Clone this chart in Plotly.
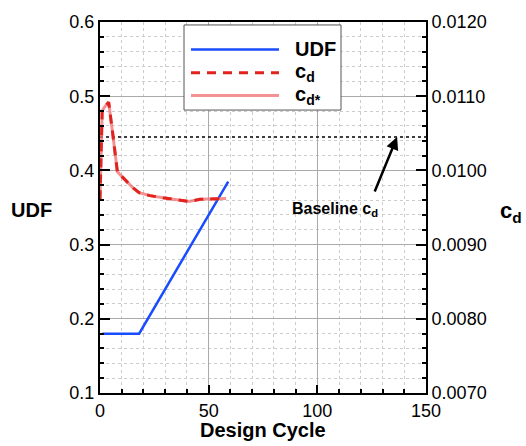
import plotly.graph_objects as go

# Design-cycle history
udf_cycle = [1, 18, 59]
udf_value = [0.18, 0.18, 0.385]

cd_cycle = [0, 1, 2, 4, 6, 8, 10, 12, 15, 18, 23, 29, 35, 41, 46, 52, 58]
cd_value = [0.00961, 0.01080, 0.01085, 0.01092, 0.01046, 0.00998, 0.00992, 0.00986,
            0.00977, 0.00970, 0.00966, 0.00963, 0.00960, 0.00958, 0.00961, 0.00962, 0.00962]
cd_star_value = list(cd_value)

baseline_cd = 0.01045
x_span = [0, 150]

FONT = "Liberation Sans, Arial, Helvetica, sans-serif"
BLUE = "#1a4cff"
RED = "#e0231c"
LIGHT_RED = "rgba(240,110,110,0.75)"

fig = go.Figure()

fig.add_trace(go.Scatter(x=udf_cycle, y=udf_value, mode="lines",
                         line=dict(color=BLUE, width=2.5), showlegend=False))
fig.add_trace(go.Scatter(x=x_span, y=[baseline_cd, baseline_cd], yaxis="y2", mode="lines",
                         line=dict(color="black", width=1.5, dash="dot"), showlegend=False))
fig.add_trace(go.Scatter(x=cd_cycle, y=cd_star_value, yaxis="y2", mode="lines",
                         line=dict(color=LIGHT_RED, width=3), showlegend=False))
fig.add_trace(go.Scatter(x=cd_cycle, y=cd_value, yaxis="y2", mode="lines",
                         line=dict(color=RED, width=3, dash="9px,7px"), showlegend=False))

def px_x(p):
    return (p - 100) / 326.0

def px_y(p):
    return (393 - p) / 375.0

shapes = [
    dict(type="rect", xref="paper", yref="paper", x0=px_x(184), x1=px_x(341),
         y0=px_y(107), y1=px_y(21), line=dict(color="#555555", width=1),
         fillcolor="white", layer="above"),
    dict(type="line", xref="paper", yref="paper", x0=px_x(191), x1=px_x(279),
         y0=px_y(45.7), y1=px_y(45.7), line=dict(color=BLUE, width=2.5), layer="above"),
    dict(type="line", xref="paper", yref="paper", x0=px_x(191), x1=px_x(279),
         y0=px_y(69.3), y1=px_y(69.3), line=dict(color=RED, width=3, dash="9px,7px"), layer="above"),
    dict(type="line", xref="paper", yref="paper", x0=px_x(191), x1=px_x(279),
         y0=px_y(92.3), y1=px_y(92.3), line=dict(color=LIGHT_RED, width=3), layer="above"),
]

bold = dict(family=FONT, size=20, color="black")
annotations = [
    dict(xref="paper", yref="paper", x=px_x(293), y=px_y(45.7), text="<b>UDF</b>",
         showarrow=False, xanchor="left", yanchor="middle", font=bold),
    dict(xref="paper", yref="paper", x=px_x(293), y=px_y(69.3), text="<b>c<sub>d</sub></b>",
         showarrow=False, xanchor="left", yanchor="middle", font=bold),
    dict(xref="paper", yref="paper", x=px_x(293), y=px_y(92.3), text="<b>c<sub>d*</sub></b>",
         showarrow=False, xanchor="left", yanchor="middle", font=bold),
    dict(xref="paper", yref="paper", x=px_x(31), y=px_y(208), text="<b>UDF</b>",
         showarrow=False, xanchor="center", yanchor="middle", font=bold),
    dict(xref="paper", yref="paper", x=px_x(511), y=px_y(210), text="<b>c<sub>d</sub></b>",
         showarrow=False, xanchor="center", yanchor="middle", font=dict(family=FONT, size=22, color="black")),
    dict(xref="paper", yref="paper", x=0.5, y=px_y(430), text="<b>Design Cycle</b>",
         showarrow=False, xanchor="center", yanchor="middle", font=bold),
    dict(xref="x", yref="y2", x=136.7, y=baseline_cd, text="", showarrow=True,
         ax=-23, ay=56, arrowhead=2, arrowsize=1, arrowwidth=2.5, arrowcolor="black"),
    dict(xref="x", yref="y2", x=108, y=0.009467, text="<b>Baseline c<sub>d</sub></b>",
         showarrow=False, xanchor="center", yanchor="middle",
         font=dict(family=FONT, size=16, color="black")),
]

tickfont = dict(family=FONT, size=18, color="black")

fig.update_layout(
    width=526, height=446,
    margin=dict(l=100, r=100, t=18, b=53),
    paper_bgcolor="white", plot_bgcolor="white",
    font=dict(family=FONT, color="black"),
    shapes=shapes, annotations=annotations,
    xaxis=dict(range=[0, 150], dtick=50, tick0=0, ticks="inside", ticklen=8, tickwidth=1.5,
               tickcolor="black", showline=True, linecolor="black", linewidth=2, mirror=True,
               showgrid=True, gridcolor="#aaaaaa", gridwidth=1, zeroline=False,
               tickfont=tickfont,
               minor=dict(dtick=10, ticks="inside", ticklen=4, tickcolor="black",
                          showgrid=True, gridcolor="#cccccc", griddash="dot", gridwidth=1)),
    yaxis=dict(range=[0.1, 0.6], dtick=0.1, tick0=0.1, tickformat=".1f", ticks="inside",
               ticklen=10, tickwidth=1.5, tickcolor="black", showline=True, linecolor="black",
               linewidth=2, mirror=True, showgrid=True, gridcolor="#aaaaaa", gridwidth=1,
               zeroline=False, tickfont=tickfont,
               minor=dict(dtick=0.02, ticks="inside", ticklen=4, tickcolor="black",
                          showgrid=True, gridcolor="#cccccc", griddash="dot", gridwidth=1)),
    yaxis2=dict(range=[0.007, 0.012], dtick=0.001, tick0=0.007, tickformat=".4f",
                overlaying="y", side="right", ticks="inside", ticklen=10, tickwidth=1.5,
                tickcolor="black", showline=True, linecolor="black", linewidth=2,
                showgrid=False, zeroline=False, tickfont=tickfont,
                minor=dict(dtick=0.0002, ticks="inside", ticklen=4, tickcolor="black",
                           showgrid=False)),
)

fig.write_html("out.html")
